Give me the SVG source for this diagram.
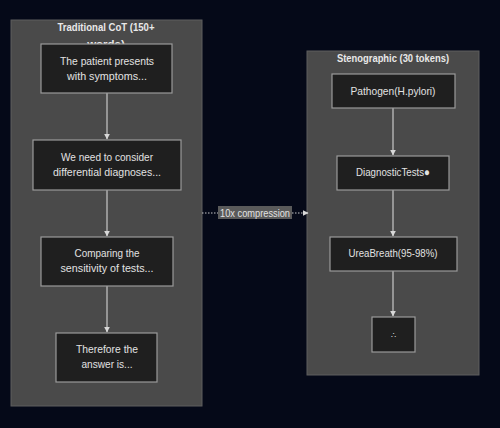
<svg xmlns="http://www.w3.org/2000/svg" width="500" height="428" viewBox="0 0 500 428">
<defs>
<style>
.cl{fill:#4a4a4a;stroke:#5e5e5e;stroke-width:1}
.nd{fill:#1f1f1f;stroke:#9a9a9a;stroke-width:1.2}
.t{font-family:"Liberation Sans",Arial,sans-serif;font-size:11.5px;fill:#e2e2e2;text-anchor:middle}
.tt{font-family:"Liberation Sans",Arial,sans-serif;font-size:11.5px;font-weight:bold;fill:#e8e8e8;text-anchor:middle}
.e{stroke:#c8c8c8;stroke-width:1.2;fill:none}
</style>
<marker id="ah" viewBox="0 0 10 10" refX="9" refY="5" markerWidth="5" markerHeight="5" orient="auto">
<path d="M0,0 L10,5 L0,10 z" fill="#d8d8d8"/>
</marker>
</defs>
<rect width="500" height="428" fill="#050918"/>
<g id="cluster-traditional">
<rect class="cl" x="11" y="20" width="191" height="386"/>
<text class="tt" x="106" y="31" textLength="97" lengthAdjust="spacingAndGlyphs">Traditional CoT (150+</text>
<text class="tt" x="106" y="48">words)</text>
</g>
<g id="cluster-steno">
<rect class="cl" x="307" y="51" width="172" height="324"/>
<text class="tt" x="393" y="62" textLength="112" lengthAdjust="spacingAndGlyphs">Stenographic (30 tokens)</text>
</g>
<g id="connectors">
<line class="e" x1="107" y1="93" x2="107" y2="139" marker-end="url(#ah)"/>
<line class="e" x1="107" y1="190" x2="107" y2="236" marker-end="url(#ah)"/>
<line class="e" x1="107" y1="286" x2="107" y2="332" marker-end="url(#ah)"/>
<line class="e" x1="393" y1="108" x2="393" y2="155" marker-end="url(#ah)"/>
<line class="e" x1="393" y1="190" x2="393" y2="236" marker-end="url(#ah)"/>
<line class="e" x1="393" y1="271" x2="393" y2="316" marker-end="url(#ah)"/>
<line class="e" x1="202" y1="213" x2="308" y2="213" stroke-dasharray="1.5,1.5" marker-end="url(#ah)"/>
<rect x="218" y="206" width="74" height="13" fill="#5a5a5a"/>
<text class="t" x="255" y="217" textLength="70" lengthAdjust="spacingAndGlyphs">10x compression</text>
</g>
<g id="n1">
<rect class="nd" x="41" y="44" width="131" height="49"/>
<text class="t" x="107" y="65" textLength="94" lengthAdjust="spacingAndGlyphs">The patient presents</text>
<text class="t" x="107" y="80" textLength="80" lengthAdjust="spacingAndGlyphs">with symptoms...</text>
</g>
<g id="n2">
<rect class="nd" x="33" y="140" width="148" height="50"/>
<text class="t" x="107" y="161" textLength="92" lengthAdjust="spacingAndGlyphs">We need to consider</text>
<text class="t" x="107" y="176" textLength="108" lengthAdjust="spacingAndGlyphs">differential diagnoses...</text>
</g>
<g id="n3">
<rect class="nd" x="41" y="237" width="132" height="49"/>
<text class="t" x="107" y="257" textLength="65" lengthAdjust="spacingAndGlyphs">Comparing the</text>
<text class="t" x="107" y="272" textLength="93" lengthAdjust="spacingAndGlyphs">sensitivity of tests...</text>
</g>
<g id="n4">
<rect class="nd" x="56" y="333" width="101" height="49"/>
<text class="t" x="107" y="353" textLength="62" lengthAdjust="spacingAndGlyphs">Therefore the</text>
<text class="t" x="107" y="368" textLength="51" lengthAdjust="spacingAndGlyphs">answer is...</text>
</g>
<g id="s1">
<rect class="nd" x="332" y="74" width="123" height="34"/>
<text class="t" x="393" y="95" textLength="85" lengthAdjust="spacingAndGlyphs">Pathogen(H.pylori)</text>
</g>
<g id="s2">
<rect class="nd" x="337" y="156" width="112" height="34"/>
<text class="t" x="393" y="176" textLength="74" lengthAdjust="spacingAndGlyphs">DiagnosticTests●</text>
</g>
<g id="s3">
<rect class="nd" x="330" y="237" width="127" height="34"/>
<text class="t" x="393" y="257" textLength="89" lengthAdjust="spacingAndGlyphs">UreaBreath(95-98%)</text>
</g>
<g id="s4">
<rect class="nd" x="372" y="317" width="43" height="35"/>
<text class="t" x="393" y="338" style="font-size:8px">∴</text>
</g>
</svg>
